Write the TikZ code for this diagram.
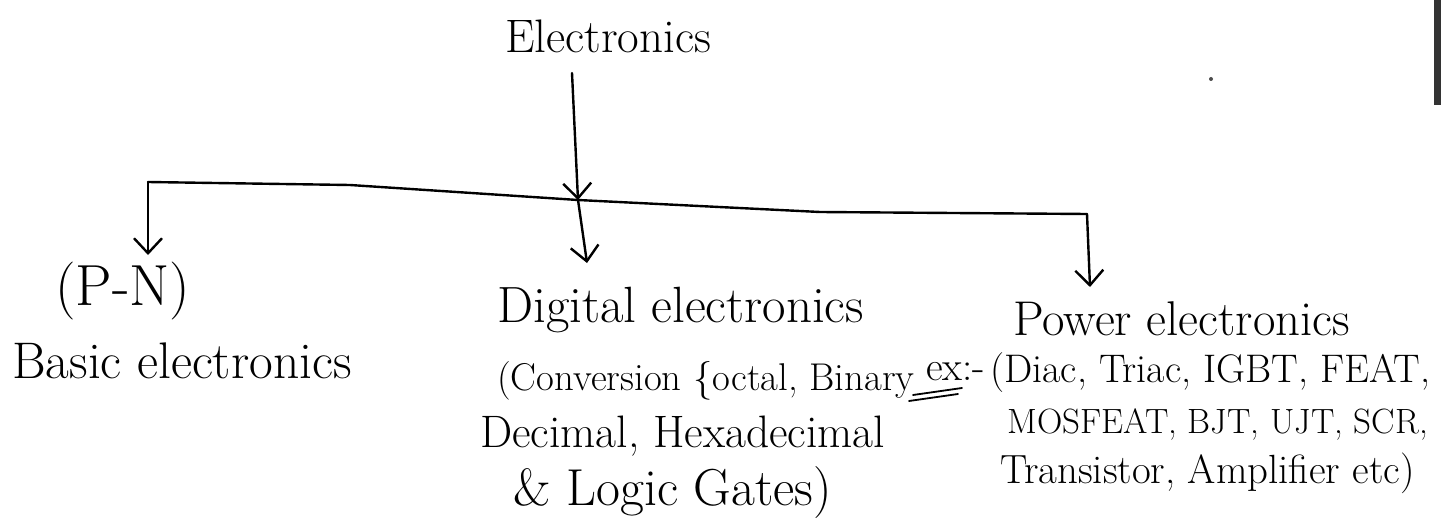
\documentclass[tikz,border=0pt]{standalone}
\usetikzlibrary{arrows.meta}
\begin{document}
\begin{tikzpicture}[x=1pt,y=-1pt,
  ink/.style={line width=2.4pt,black,line cap=round,line join=round},
  arr/.style={ink,-{Straight Barb[length=15pt,width=28pt,line width=2.4pt]}},
  hw/.style={inner sep=0pt,anchor=base west,text=black,font=\fontsize{#1}{#1}\selectfont},
  hw/.default=40pt]
\useasboundingbox (0,0) rectangle (1441,532);
\fill[white] (0,0) rectangle (1441,532);
% paper edge shadow and speck
\fill[black!80] (1434,0) rectangle (1441,105);
\fill[black!70] (1211,79) circle (2);

% texts
\node[hw=47pt] (title) at (505,53) {Electronics};
\node[hw=58pt] (pn) at (55,305) {(P-N)};
\node[hw=51.5pt] (basic) at (12,378) {Basic electronics};
\node[hw=51pt] (digital) at (497,322) {Digital electronics};
\node[hw=38.7pt] (conv) at (497,390) {(Conversion \{octal, Binary};
\node[hw=45.5pt] (dec) at (480,447) {Decimal, Hexadecimal};
\node[hw=52pt] (logic) at (513,505) {\& Logic Gates)};
\node[hw=48.8pt] (power) at (1013,335) {Power electronics};
\node[hw=41pt] (ex) at (926,380) {ex:-};
\node[hw=39.9pt] (diac) at (990,382) {(Diac, Triac, IGBT, FEAT,};
\node[hw=35.1pt] (mos) at (1007,433) {MOSFEAT, BJT, UJT, SCR,};
\node[hw=40.8pt] (trans) at (1000,483) {Transistor, Amplifier etc)};

% connector points
\coordinate (t0) at (572,73);
\coordinate (jM) at (578,200);
\coordinate (cL) at (148,182);
\coordinate (cR) at (1087,214);
\coordinate (aL) at (148,255);
\coordinate (aM) at (587,263);
\coordinate (aR) at (1090,287);
\coordinate (u1a) at (913,395);
\coordinate (u1b) at (962,388);
\coordinate (u2a) at (909,401);
\coordinate (u2b) at (958,394);

% connectors
\draw[arr] (t0) -- (jM);
\draw[ink] (cL) -- (350,185) -- (jM) -- (820,212) -- (cR);
\draw[arr] (cL) -- (aL);
\draw[arr] (jM) -- (aM);
\draw[arr] (cR) -- (aR);
% double underline of ex
\draw[ink,line width=1.8pt] (u1a) -- (u1b);
\draw[ink,line width=1.8pt] (u2a) -- (u2b);
\end{tikzpicture}
\end{document}
